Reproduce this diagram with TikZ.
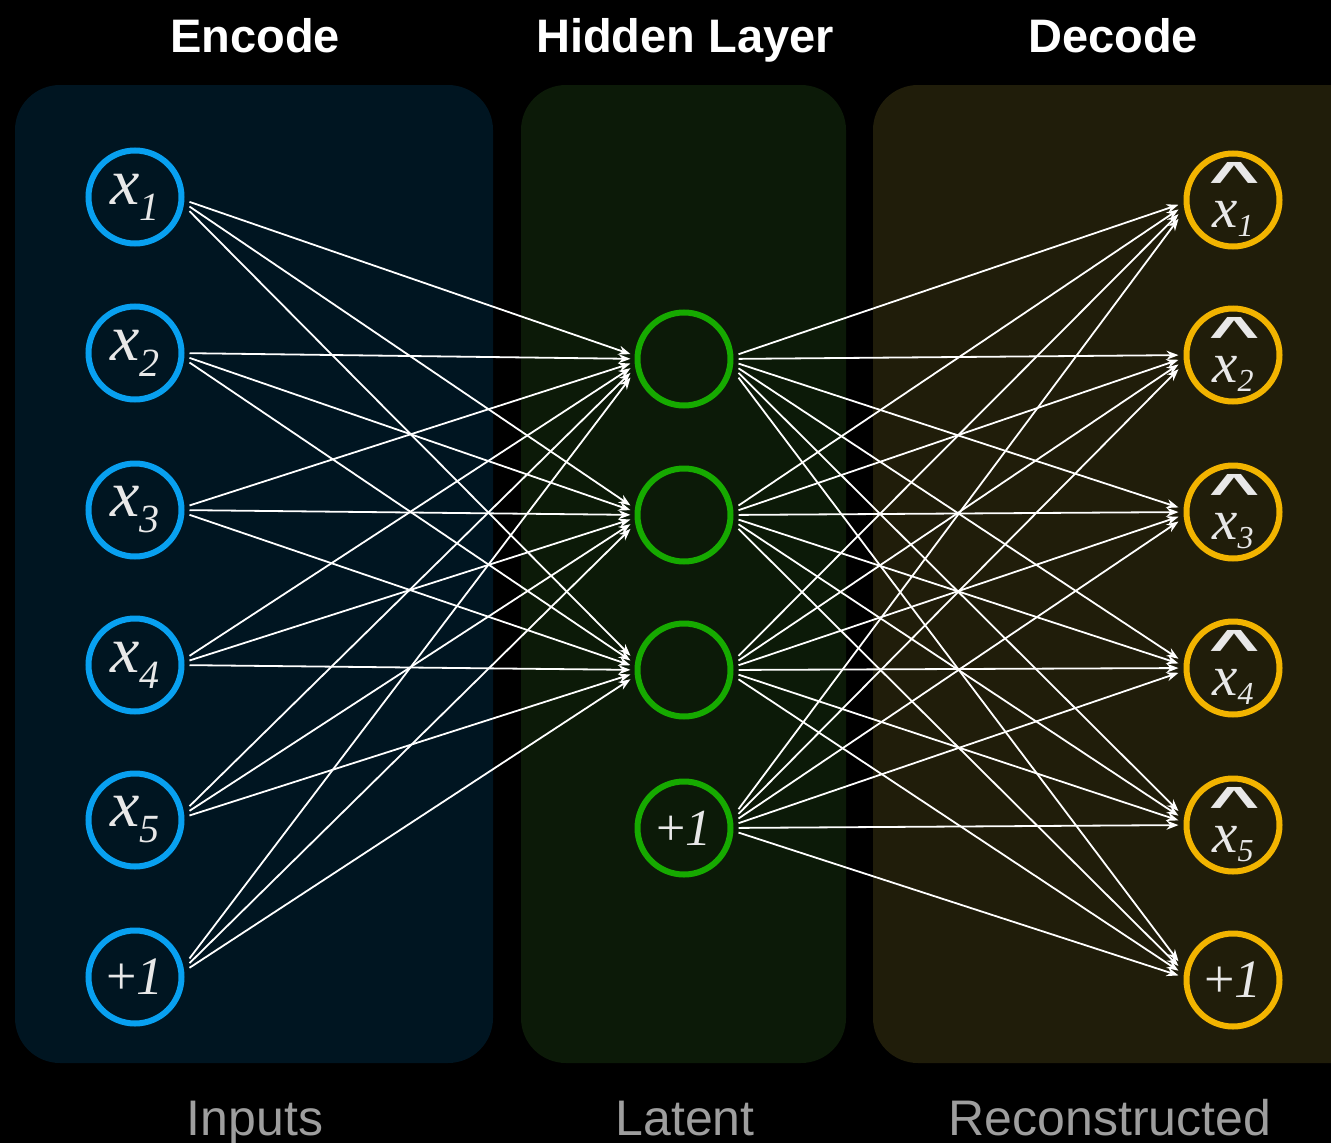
\documentclass[tikz,border=0pt]{standalone}
\usepackage{fontspec}
\usepackage{graphicx}
\setmainfont{Liberation Serif}
\newfontfamily\sansfam{Liberation Sans}
\usetikzlibrary{arrows.meta,calc}

\definecolor{encbg}{RGB}{0,21,33}
\definecolor{hidbg}{RGB}{12,26,8}
\definecolor{decbg}{RGB}{32,29,10}
\definecolor{inblue}{RGB}{8,160,240}
\definecolor{hidgreen}{RGB}{22,170,0}
\definecolor{outgold}{RGB}{242,180,0}
\definecolor{glyph}{RGB}{232,232,232}
\definecolor{captiongray}{RGB}{158,158,158}

% input variable x_i
\newcommand\invar[1]{x\raisebox{-16pt}{\fontsize{40}{40}\selectfont #1}}
% reconstructed variable: hat over x_i
\newcommand\hatmark{\raisebox{1pt}[\height]{\scalebox{1.45}[0.8]{\sansfam\bfseries\fontsize{60}{60}\selectfont\char"5E}}}
\newcommand\outvar[1]{\hatmark\\[-24pt]x\raisebox{-9pt}{\fontsize{32}{32}\selectfont #1}}
% bias unit
\newcommand\biasunit{{\upshape+}\textit{1}}

\tikzset{
  unit/.style={circle, line width=6pt, minimum size=93pt, inner sep=0pt, text=glyph},
  innode/.style={unit, draw=inblue, font=\fontsize{66}{66}\selectfont\itshape},
  biasin/.style={unit, draw=inblue, font=\fontsize{54}{54}\selectfont\itshape},
  hidnode/.style={unit, draw=hidgreen, font=\fontsize{52}{52}\selectfont\itshape},
  outnode/.style={unit, draw=outgold, align=center, font=\fontsize{57}{55}\selectfont\itshape},
  biasout/.style={unit, draw=outgold, font=\fontsize{54}{54}\selectfont\itshape},
  edge/.style={draw=white, line width=1.8pt, -{Stealth[length=12pt,width=9pt]}},
  panel/.style={rounded corners=45pt},
  headlabel/.style={font=\sansfam\bfseries\fontsize{47}{47}\selectfont, text=white, anchor=base},
  footlabel/.style={font=\sansfam\fontsize{50}{50}\selectfont, text=captiongray, anchor=base},
}

\begin{document}
\begin{tikzpicture}[x=1pt,y=-1pt]
  \useasboundingbox (0,0) rectangle (1331,1143);
  \fill[black] (0,0) rectangle (1331,1143);

  % layer panels
  \fill[encbg, panel] (15,85) rectangle (493,1063);
  \fill[hidbg, panel] (521,85) rectangle (846,1063);
  \fill[decbg, panel] (873,85) rectangle (1400,1063);

  % headings and captions
  \node[headlabel] (tEnc) at (255,52) {Encode};
  \node[headlabel] (tHid) at (685,52) {Hidden Layer};
  \node[headlabel] (tDec) at (1113,52) {Decode};
  \node[footlabel] (cIn) at (255,1135) {Inputs};
  \node[footlabel] (cLat) at (685,1135) {Latent};
  \node[footlabel] (cRec) at (1110,1135) {Reconstructed};

  % input layer
  \foreach \i/\y in {1/197,2/353,3/510,4/665,5/820}
    \node[innode] (in\i) at (135,\y) {\invar{\i}};
  \node[biasin] (in6) at (135,977) {\biasunit};

  % hidden layer
  \foreach \j/\y in {1/359,2/515,3/670}
    \node[hidnode] (h\j) at (684,\y) {};
  \node[hidnode] (h4) at (684,828) {\biasunit};

  % output layer
  \foreach \k/\y in {1/200,2/355,3/512,4/668,5/825}
    \node[outnode] (o\k) at (1233,\y) {\outvar{\k}};
  \node[biasout] (o6) at (1233,980) {\biasunit};

  % encoder weights
  \foreach \i/\yi in {1/197,2/353,3/510,4/665,5/820,6/977}
    \foreach \j/\yj in {1/359,2/515,3/670}{
      \pgfmathsetmacro\d{0.03*(\yj-\yi)}
      \draw[edge] ($(in\i.east)+(5,\d)$) -- ($(h\j.west)+(-4,-\d)$);
    }

  % decoder weights
  \foreach \j/\yj in {1/359,2/515,3/670,4/828}
    \foreach \k/\yk in {1/200,2/355,3/512,4/668,5/825,6/980}{
      \pgfmathsetmacro\d{0.03*(\yk-\yj)}
      \draw[edge] ($(h\j.east)+(5,\d)$) -- ($(o\k.west)+(-5,-\d)$);
    }
\end{tikzpicture}
\end{document}
